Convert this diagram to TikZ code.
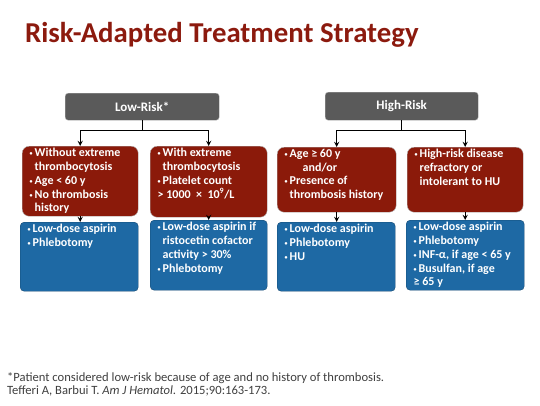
\documentclass[tikz,border=0pt]{standalone}
\usepackage{fontspec}
\setmainfont{Carlito}
\definecolor{titlered}{HTML}{8C1A0E}
\definecolor{critred}{HTML}{8B1A0A}
\definecolor{treatblue}{HTML}{1E69A4}
\definecolor{riskgray}{HTML}{5A5A5A}
\definecolor{notegray}{HTML}{3F3F3F}
\newcommand{\bitem}{\par\hangindent=5pt\hangafter=1\noindent\makebox[5pt][l]{\raisebox{1pt}{\fontsize{6}{6}\selectfont•}}}
\newcommand{\inbox}[3]{\parbox[t][#2][t]{#1}{\raggedright\bfseries #3}}

\begin{document}
\begin{tikzpicture}[x=1pt,y=-1pt,>=stealth,
  riskbox/.style={draw=white!70!black,fill=riskgray,rounded corners=3pt,anchor=north west,text=white,font=\fontsize{13}{14}\selectfont\bfseries,inner sep=0pt},
  critbox/.style={draw=white!70!black,fill=critred,rounded corners=7pt,anchor=north west,text=white,font=\fontsize{12}{13.8}\selectfont,inner xsep=7.5pt,inner ysep=2pt},
  treatbox/.style={draw=treatblue!70!black,fill=treatblue,rounded corners=4pt,anchor=north west,text=white,font=\fontsize{12}{13.8}\selectfont,inner xsep=7.5pt,inner ysep=2pt},
  notetext/.style={anchor=base west,inner sep=0pt,text=notegray,font=\fontsize{12.6}{13}\selectfont},
  link/.style={->,line width=1.3pt}]
  \useasboundingbox (0,0) rectangle (540,405);
  \node[anchor=base west,inner sep=0pt,text=titlered,font=\fontsize{28.8}{30}\selectfont\bfseries] (title) at (25,42) {Risk-Adapted Treatment Strategy};

  \node[riskbox,minimum width=154pt,minimum height=27pt] (low) at (65,93) {Low-Risk*};
  \node[riskbox,minimum width=153pt,minimum height=28pt] (high) at (325,92) {High-Risk};

  \node[critbox] (wo) at (22,146) {\inbox{101pt}{66pt}{\bitem Without extreme thrombocytosis\bitem Age < 60 y\bitem No thrombosis history}};
  \node[critbox] (wi) at (150,146) {\inbox{102pt}{67pt}{\bitem With extreme thrombocytosis\bitem Platelet count\\> 1000 ~×~ 10\textsuperscript{9}/L}};
  \node[critbox] (age) at (277,147) {\inbox{104pt}{61pt}{\bitem Age ≥ 60 y\\\hspace*{18pt}and/or\bitem Presence of thrombosis history}};
  \node[critbox] (hr) at (407,147) {\inbox{101pt}{61pt}{\bitem High-risk disease refractory or intolerant to HU}};

  \node[treatbox] (t1) at (20,222) {\inbox{103pt}{65pt}{\bitem Low-dose aspirin\bitem Phlebotomy}};
  \node[treatbox] (t2) at (150,220) {\inbox{102pt}{66pt}{\bitem Low-dose aspirin if ristocetin cofactor activity > 30\%\bitem Phlebotomy}};
  \node[treatbox] (t3) at (277,222) {\inbox{103pt}{65pt}{\bitem Low-dose aspirin\bitem Phlebotomy\bitem HU}};
  \node[treatbox] (t4) at (406,220) {\inbox{103pt}{66pt}{\bitem Low-dose aspirin\bitem Phlebotomy\bitem INF-α, if age < 65 y\bitem Busulfan, if age\\≥~65~y}};

  \draw[link] (low.south) -- ++(0,10) -| (wo.north);
  \draw[link] (low.south) -- ++(0,10) -| (wi.north);
  \draw[link] (high.south) -- ++(0,10) -| (age.north);
  \draw[link] (high.south) -- ++(0,10) -| (hr.north);
  \draw[link] (wo.south) -- (wo.south |- t1.north);
  \draw[link] (wi.south) -- (wi.south |- t2.north);
  \draw[link] (age.south) -- (age.south |- t3.north);
  \draw[link] (hr.south) -- (hr.south |- t4.north);

  \node[notetext] (note) at (7,381.5) {*Patient considered low-risk because of age and no history of thrombosis.};
  \node[notetext] (cite) at (7,394.5) {Tefferi A, Barbui T. \textit{Am J Hematol.} 2015;90:163-173.};
\end{tikzpicture}
\end{document}
